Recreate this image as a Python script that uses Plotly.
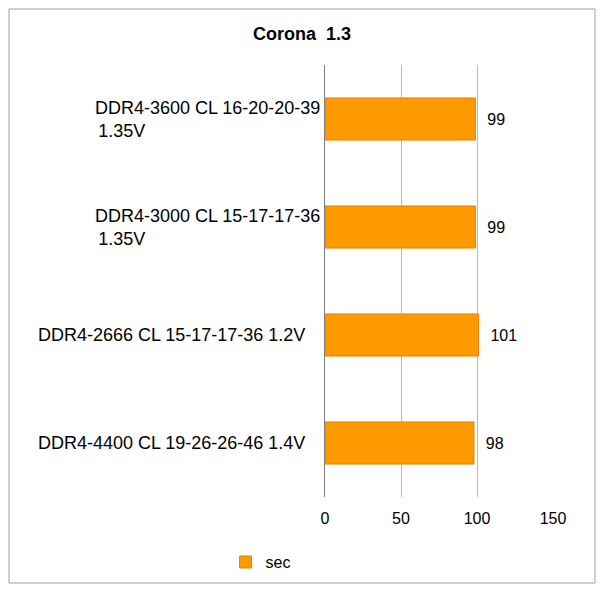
import plotly.graph_objects as go

pad = " " * 32
categories = ["DDR4-3600 CL 16-20-20-39<br>1.35V" + pad, "DDR4-3000 CL 15-17-17-36<br>1.35V" + pad,
              "DDR4-2666 CL 15-17-17-36 1.2V", "DDR4-4400 CL 19-26-26-46 1.4V"]
values = [99, 99, 101, 98]
FONT = "Liberation Sans, Arial"

fig = go.Figure(go.Bar(
    y=categories, x=values, orientation="h", name="sec",
    marker=dict(color="#FF9900", line=dict(color="#E08600", width=1)),
    width=0.39, text=["  " + str(v) for v in values], textposition="outside",
    textfont=dict(size=16, color="black", family=FONT),
    cliponaxis=False,
))
fig.update_layout(
    width=588, height=576, paper_bgcolor="white", plot_bgcolor="white",
    margin=dict(l=317, r=43, t=57, b=87),
    title=dict(text="<b>Corona  1.3</b>", x=0.5, xanchor="center", y=0.967,
               font=dict(size=18, color="black", family=FONT)),
    font=dict(family=FONT, size=16, color="black"),
    xaxis=dict(range=[0, 150], tickvals=[0, 50, 100, 150], showgrid=True,
               gridcolor="#A9BCE0", gridwidth=1, zeroline=False, showline=False,
               ticks="", tickfont=dict(size=16), automargin=False, ticklabelstandoff=10),
    yaxis=dict(autorange="reversed", showline=True, linecolor="#808080", linewidth=1,
               ticks="", ticksuffix="   ", tickfont=dict(size=18), automargin=False),
    showlegend=True,
    legend=dict(orientation="h", xref="container", yref="container", x=0.37, y=0.038,
                xanchor="left", yanchor="middle", font=dict(size=16), bgcolor="rgba(0,0,0,0)"),
    shapes=[dict(type="rect", xref="paper", yref="paper", x0=-316/228, x1=1+42/228,
                 y0=-86/432, y1=1+56/432, line=dict(color="#A0A0A0", width=1))],
)
fig.write_html("out.html")
